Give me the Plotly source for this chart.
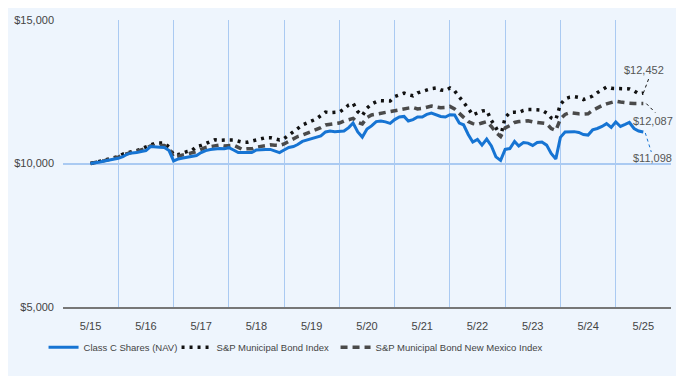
import pandas as pd
import plotly.graph_objects as go

# Monthly observations, 5/2015 .. 5/2025
months = pd.date_range("2015-05-31", "2025-05-31", freq="ME")

class_c = [
    10000, 10020, 10050, 10090, 10120, 10160, 10180, 10240, 10330, 10370, 10380, 10420,
    10450, 10590, 10570, 10570, 10560, 10450, 10090, 10160, 10190, 10210, 10240, 10280,
    10380, 10450, 10490, 10510, 10520, 10510, 10550, 10470, 10380, 10380, 10380, 10380,
    10470, 10490, 10490, 10490, 10440, 10380, 10470, 10560, 10590, 10660, 10770, 10820,
    10850, 10910, 10960, 11100, 11130, 11110, 11110, 11130, 11250, 11410, 11100, 10920,
    11200, 11310, 11460, 11480, 11450, 11400, 11530, 11620, 11640, 11480, 11530, 11620,
    11620, 11710, 11760, 11710, 11640, 11620, 11700, 11690, 11410, 11350, 11010, 10750,
    10840, 10640, 10850, 10610, 10230, 10110, 10490, 10520, 10770, 10610, 10730, 10710,
    10630, 10730, 10750, 10640, 10350, 10160, 10910, 11100, 11110, 11110, 11080, 11010,
    10990, 11170, 11220, 11290, 11390, 11260, 11450, 11290, 11360, 11430, 11220, 11130,
    11098,
]

sp_muni = [
    10000, 10030, 10090, 10120, 10160, 10190, 10240, 10330, 10370, 10390, 10450, 10510,
    10570, 10640, 10710, 10710, 10710, 10570, 10300, 10310, 10370, 10420, 10450, 10590,
    10630, 10700, 10770, 10830, 10810, 10800, 10820, 10820, 10770, 10740, 10740, 10780,
    10830, 10870, 10900, 10900, 10850, 10820, 10870, 11000, 11100, 11240, 11340, 11410,
    11480, 11550, 11670, 11790, 11770, 11770, 11790, 11900, 12040, 12100, 11810, 11670,
    11930, 12070, 12150, 12190, 12180, 12180, 12330, 12390, 12450, 12400, 12360, 12460,
    12510, 12570, 12610, 12630, 12560, 12540, 12630, 12530, 12330, 12160, 11920, 11690,
    11770, 11830, 11850, 11500, 11250, 10940, 11600, 11780, 11790, 11780, 11850, 11880,
    11880, 11880, 11860, 11760, 11590, 11530, 12060, 12250, 12310, 12330, 12300, 12230,
    12300, 12350, 12470, 12580, 12660, 12620, 12610, 12630, 12620, 12600, 12530, 12430,
    12452,
]

sp_nm = [
    10000, 10020, 10070, 10100, 10140, 10170, 10220, 10300, 10350, 10380, 10420, 10470,
    10520, 10610, 10630, 10630, 10630, 10520, 10210, 10240, 10300, 10330, 10370, 10420,
    10490, 10560, 10590, 10630, 10640, 10610, 10630, 10640, 10560, 10490, 10510, 10510,
    10570, 10600, 10630, 10650, 10640, 10630, 10680, 10780, 10850, 10940, 10990, 11050,
    11100, 11170, 11250, 11340, 11360, 11380, 11410, 11480, 11530, 11570, 11430, 11380,
    11600, 11690, 11720, 11760, 11790, 11810, 11840, 11880, 11910, 11930, 11950, 11900,
    11920, 11970, 12000, 11970, 11940, 11950, 11990, 11900, 11760, 11640, 11460, 11390,
    11360, 11410, 11460, 11290, 11080, 10940, 11240, 11320, 11430, 11460, 11480, 11490,
    11450, 11440, 11410, 11390, 11220, 11150, 11550, 11710, 11770, 11740, 11730, 11720,
    11730, 11850, 11950, 12020, 12080, 12130, 12170, 12140, 12110, 12100, 12090, 12080,
    12087,
]

names = ["Class C Shares (NAV)", "S&P Municipal Bond Index", "S&P Municipal Bond New Mexico Index"]
tick_dates = pd.date_range("2015-05-31", "2025-05-31", freq="12ME")
tick_text = ["5/15", "5/16", "5/17", "5/18", "5/19", "5/20", "5/21", "5/22", "5/23", "5/24", "5/25"]
grid_dates = pd.date_range("2014-11-30", "2025-11-30", freq="12ME")
y_ticks = [5000, 10000, 15000]
y_text = ["$5,000", "$10,000", "$15,000"]

BLUE = "#1674D3"
DARK = "#111111"
GRAY = "#4a4a4a"
BG = "#EEF5FD"
GRID = "#AACAF2"
FONT = "Liberation Sans, Arial, sans-serif"

fig = go.Figure()
fig.add_trace(go.Scatter(x=months, y=sp_muni, mode="lines", name=names[1],
                         line=dict(color=DARK, width=3.5, dash="3px,5px"),
                         legendrank=2, legendwidth=114))
fig.add_trace(go.Scatter(x=months, y=sp_nm, mode="lines", name=names[2],
                         line=dict(color=GRAY, width=3.5, dash="7px,5px"),
                         legendrank=3))
fig.add_trace(go.Scatter(x=months, y=class_c, mode="lines", name=names[0],
                         line=dict(color=BLUE, width=3),
                         legendrank=1, legendwidth=88))

last_x = months[-1]
labels = [
    (sp_muni[-1], f"${sp_muni[-1]:,}", DARK, (0, 0, 6, 16), (1, 23)),
    (sp_nm[-1], f"${sp_nm[-1]:,}", DARK, (3, 0, 12, -9), (10, -17)),
    (class_c[-1], f"${class_c[-1]:,}", BLUE, (2, -1, 8, -20), (9, -26)),
]
for val, txt, col, (x0, y0, x1, y1), (xs, ys) in labels:
    fig.add_shape(type="line", xref="x", yref="y",
                  xsizemode="pixel", ysizemode="pixel",
                  xanchor=last_x, yanchor=val,
                  x0=x0, y0=y0, x1=x1, y1=y1,
                  line=dict(color=col, width=1, dash="dot"))
    fig.add_annotation(x=last_x, y=val, text=txt, showarrow=False,
                       xshift=xs, yshift=ys,
                       font=dict(size=11, color="#555555", family=FONT))

# page body adds an 8px margin, so the figure is sized to fill the rest
fig.update_layout(
    width=676, height=368,
    margin=dict(l=55, r=13, t=12, b=69, autoexpand=False),
    paper_bgcolor=BG, plot_bgcolor=BG,
    font=dict(family=FONT, size=11, color="#444444"),
    showlegend=True,
    legend=dict(orientation="h", x=-0.032, xanchor="left", y=-0.09, yanchor="top",
                bgcolor="rgba(0,0,0,0)", font=dict(size=9.5, color="#444444", family=FONT),
                itemwidth=30, traceorder="normal"),
)
fig.update_xaxes(
    range=[grid_dates[0], grid_dates[-1]],
    tickmode="array", tickvals=tick_dates, ticktext=tick_text,
    showgrid=False, ticks="", ticklabelstandoff=8,
    showline=True, linecolor="#777777", linewidth=2,
    minor=dict(tickmode="array", tickvals=grid_dates, showgrid=True,
               gridcolor=GRID, gridwidth=1, ticks=""),
    zeroline=False,
)
fig.update_yaxes(
    range=[5000, 15000], tickmode="array", tickvals=y_ticks, ticktext=y_text,
    showgrid=True, gridcolor=GRID, gridwidth=2, zeroline=False,
    ticks="", ticklabelstandoff=8,
)

fig.write_html("out.html")
